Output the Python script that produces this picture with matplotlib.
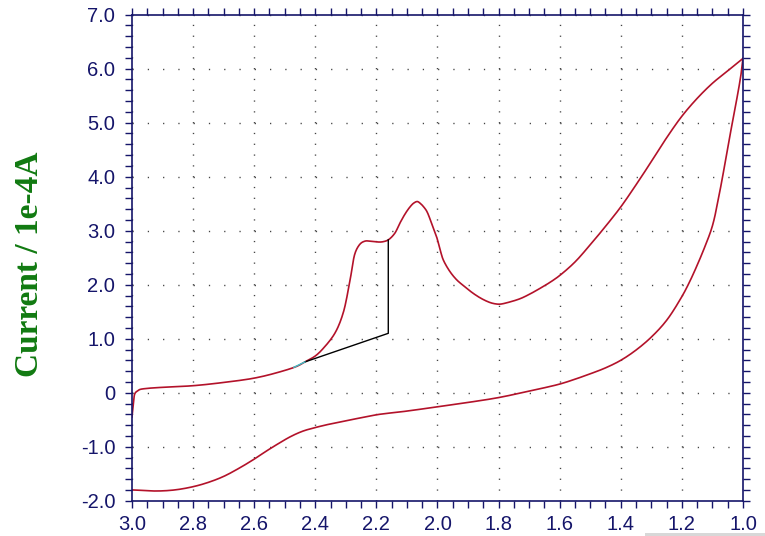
import numpy as np
import matplotlib.pyplot as plt
from matplotlib.ticker import MultipleLocator, FuncFormatter
from matplotlib.patches import Rectangle

# forward scan (3.0 V -> 1.0 V)
fwd_v = [3.0, 2.995, 2.99, 2.98, 2.974, 2.95, 2.90, 2.80, 2.70, 2.60, 2.526, 2.46,
         2.434, 2.40, 2.374, 2.336, 2.309, 2.286, 2.27, 2.258, 2.248, 2.235, 2.227,
         2.21, 2.188, 2.175, 2.161, 2.14, 2.123, 2.105, 2.09, 2.078, 2.066, 2.055,
         2.045, 2.035, 2.02, 2.003, 1.99, 1.981, 1.96, 1.937, 1.91, 1.883, 1.855,
         1.828, 1.81, 1.795, 1.77, 1.73, 1.70, 1.665, 1.63, 1.60, 1.55, 1.50, 1.45,
         1.40, 1.35, 1.30, 1.25, 1.20, 1.15, 1.10, 1.05, 1.0]
fwd_i = [-0.45, -0.2, -0.01, 0.04, 0.06, 0.08, 0.10, 0.13, 0.19, 0.27, 0.37, 0.49,
         0.57, 0.68, 0.82, 1.10, 1.47, 2.09, 2.58, 2.72, 2.78, 2.81, 2.81,
         2.80, 2.79, 2.80, 2.83, 2.95, 3.14, 3.32, 3.44, 3.51, 3.54, 3.50,
         3.44, 3.36, 3.15, 2.89, 2.62, 2.46, 2.25, 2.09, 1.96, 1.84, 1.74,
         1.67, 1.645, 1.64, 1.67, 1.74, 1.82, 1.93, 2.05, 2.17, 2.42, 2.74, 3.08,
         3.44, 3.85, 4.28, 4.72, 5.12, 5.45, 5.73, 5.96, 6.19]

# reverse scan (1.0 V -> 3.0 V)
rev_v = [1.0, 1.005, 1.015, 1.03, 1.05, 1.075, 1.10, 1.125, 1.15, 1.175, 1.20,
         1.25, 1.30, 1.35, 1.40, 1.45, 1.50, 1.55, 1.60, 1.70, 1.80, 1.90,
         2.0, 2.10, 2.19, 2.22, 2.30, 2.36, 2.40, 2.44, 2.48, 2.52, 2.56, 2.60, 2.65,
         2.70, 2.75, 2.80, 2.86, 2.92, 2.96, 3.0]
rev_i = [6.19, 5.95, 5.6, 5.15, 4.53, 3.75, 3.09, 2.70, 2.36, 2.05, 1.78,
         1.34, 1.03, 0.79, 0.60, 0.46, 0.35, 0.25, 0.16, 0.03, -0.09, -0.18,
         -0.26, -0.34, -0.40, -0.43, -0.52, -0.59, -0.645, -0.71, -0.81, -0.94, -1.08, -1.23, -1.40,
         -1.55, -1.66, -1.74, -1.80, -1.82, -1.81, -1.80]

# peak baseline
base_v = [2.434, 2.161, 2.161]
base_i = [0.57, 1.10, 2.83]
ext_v = [2.47, 2.434]
ext_i = [0.47, 0.57]

navy = "#15156a"


def smooth(xs, ys, n=12):
    # centripetal Catmull-Rom through the read points (scaled to pixel-ish units)
    sx, sy = 305.5, 54.0
    p = np.column_stack([np.asarray(xs) * sx, np.asarray(ys) * sy])
    p = np.vstack([2 * p[0] - p[1], p, 2 * p[-1] - p[-2]])
    out = []
    for k in range(1, len(p) - 2):
        p0, p1, p2, p3 = p[k - 1], p[k], p[k + 1], p[k + 2]
        t0 = 0.0
        t1 = t0 + max(np.linalg.norm(p1 - p0), 1e-6) ** 0.5
        t2 = t1 + max(np.linalg.norm(p2 - p1), 1e-6) ** 0.5
        t3 = t2 + max(np.linalg.norm(p3 - p2), 1e-6) ** 0.5
        for t in np.linspace(t1, t2, n, endpoint=False):
            a1 = (t1 - t) / (t1 - t0) * p0 + (t - t0) / (t1 - t0) * p1
            a2 = (t2 - t) / (t2 - t1) * p1 + (t - t1) / (t2 - t1) * p2
            a3 = (t3 - t) / (t3 - t2) * p2 + (t - t2) / (t3 - t2) * p3
            b1 = (t2 - t) / (t2 - t0) * a1 + (t - t0) / (t2 - t0) * a2
            b2 = (t3 - t) / (t3 - t1) * a2 + (t - t1) / (t3 - t1) * a3
            out.append((t2 - t) / (t2 - t1) * b1 + (t - t1) / (t2 - t1) * b2)
    out.append(p[-2])
    out = np.array(out)
    return out[:, 0] / sx, out[:, 1] / sy


fig = plt.figure(figsize=(7.65, 5.36), dpi=100)
ax = fig.add_axes([0.1725, 0.0658, 0.7987, 0.9068])

fx, fy = smooth(fwd_v, fwd_i)
rx, ry = smooth(rev_v, rev_i)
ax.plot(fx, fy, color="#b3122a", lw=1.2)
ax.plot(rx, ry, color="#b3122a", lw=1.2)
ax.plot(base_v, base_i, color="black", lw=1.0)
ax.plot(ext_v, ext_i, color="#3cc0c8", lw=1.0)

ax.set_xlim(3.0, 1.0)
ax.set_ylim(-2.0, 7.0)

ax.xaxis.set_major_locator(MultipleLocator(0.2))
ax.xaxis.set_minor_locator(MultipleLocator(0.05))
ax.yaxis.set_major_locator(MultipleLocator(1.0))
ax.yaxis.set_minor_locator(MultipleLocator(0.2))
ax.xaxis.set_major_formatter(FuncFormatter(lambda v, p: "%.1f" % v))
ax.yaxis.set_major_formatter(FuncFormatter(lambda v, p: "0" if abs(v) < 1e-9 else "%.1f" % v))

for s in ax.spines.values():
    s.set_color(navy)
    s.set_linewidth(1.2)

ax.tick_params(which="both", direction="out", color=navy, width=1.0,
               top=True, right=True, labeltop=False, labelright=False)
ax.tick_params(which="major", length=5)
ax.tick_params(which="minor", length=5)
ax.tick_params(axis="both", which="major", labelsize=14.5, labelcolor=navy)
ax.tick_params(axis="y", pad=7)
ax.tick_params(axis="x", pad=5)
for lab in ax.get_xticklabels() + ax.get_yticklabels():
    lab.set_fontfamily("Liberation Sans")

# dotted grid: dots land on minor tick positions
ax.xaxis.grid(True, color="#444444", lw=1.0, linestyle=(0, (0.9, 7.78 - 0.9)))
ax.yaxis.grid(True, color="#444444", lw=1.0, linestyle=(0, (0.9, 11.0 - 0.9)))
ax.set_axisbelow(True)

fig.text(30 / 765, 1 - 264 / 536, "Current / 1e-4A", rotation=90,
         ha="center", va="center", color="#117a11", fontsize=24,
         fontweight="bold", fontfamily="Liberation Serif")

fig.add_artist(Rectangle((645 / 765, 0), 120 / 765, 3 / 536,
                         transform=fig.transFigure, color="#d8d8d8", lw=0))

fig.savefig("out.png", dpi=100)
